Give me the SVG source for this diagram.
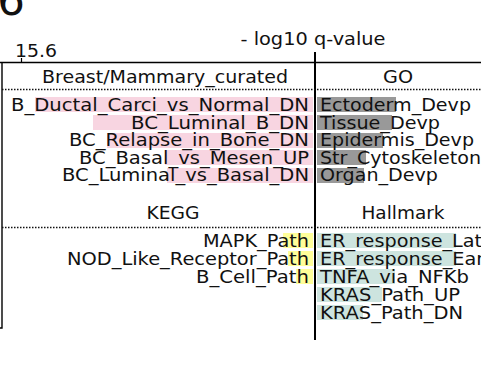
<svg xmlns="http://www.w3.org/2000/svg" width="481" height="382" viewBox="0 0 481 382">
<style>
text{font-family:"DejaVu Sans","Verdana",sans-serif;font-size:18px;fill:#111}
.r{text-anchor:end}
.m{text-anchor:middle}
.pk{fill:#f8d5e1}
.gy{fill:#999999}
.yl{fill:#ffff99}
.tl{fill:#cde4df}
.dot{stroke:#111;stroke-width:1.5;stroke-dasharray:1.5 1.5;fill:none}
.ax{stroke:#000;fill:none}
</style>
<rect width="481" height="382" fill="#fff"/>
<text x="-3" y="14.5" style="font-size:44px">6</text>
<g id="axes">
<text x="15" y="57" textLength="42" lengthAdjust="spacingAndGlyphs">15.6</text>
<line class="ax" x1="21.5" y1="58" x2="21.5" y2="62" stroke-width="1.2"/>
<text class="m" x="313" y="45" textLength="145" lengthAdjust="spacingAndGlyphs">- log10 q-value</text>
<line class="ax" x1="0" y1="62.5" x2="481" y2="62.5" stroke-width="1.7"/>
<path class="ax" d="M0,328 H2 V62" stroke-width="1.4"/>
<line class="ax" x1="315" y1="52" x2="315" y2="340" stroke-width="2"/>
<line class="dot" x1="2" y1="89.5" x2="481" y2="89.5"/>
<line class="dot" x1="2" y1="227.5" x2="481" y2="227.5"/>
</g>
<g id="breast">
<text class="m" x="165" y="83" textLength="246" lengthAdjust="spacingAndGlyphs">Breast/Mammary_curated</text>
<rect class="pk" x="35" y="97" width="278" height="15"/>
<rect class="pk" x="93" y="115" width="220" height="15"/>
<rect class="pk" x="107" y="133" width="206" height="15"/>
<rect class="pk" x="165" y="150" width="148" height="15"/>
<rect class="pk" x="167" y="168" width="146" height="15"/>
<text class="r" x="309" y="110.5" textLength="298" lengthAdjust="spacingAndGlyphs">B_Ductal_Carci_vs_Normal_DN</text>
<text class="r" x="309" y="128.5" textLength="178" lengthAdjust="spacingAndGlyphs">BC_Luminal_B_DN</text>
<text class="r" x="309" y="146" textLength="240" lengthAdjust="spacingAndGlyphs">BC_Relapse_in_Bone_DN</text>
<text class="r" x="309" y="163.5" textLength="230" lengthAdjust="spacingAndGlyphs">BC_Basal_vs_Mesen_UP</text>
<text class="r" x="309" y="181" textLength="247" lengthAdjust="spacingAndGlyphs">BC_Luminal_vs_Basal_DN</text>
</g>
<g id="go">
<text class="m" x="398" y="83" textLength="30" lengthAdjust="spacingAndGlyphs">GO</text>
<rect class="gy" x="317" y="97" width="79" height="15"/>
<rect class="gy" x="317" y="115" width="75" height="15"/>
<rect class="gy" x="317" y="133" width="66" height="15"/>
<rect class="gy" x="317" y="150" width="49" height="15"/>
<rect class="gy" x="317" y="168" width="47" height="15"/>
<text x="320" y="110.5" textLength="151" lengthAdjust="spacingAndGlyphs">Ectoderm_Devp</text>
<text x="320" y="128.5" textLength="120" lengthAdjust="spacingAndGlyphs">Tissue_Devp</text>
<text x="320" y="146" textLength="154" lengthAdjust="spacingAndGlyphs">Epidermis_Devp</text>
<text x="320" y="163.5" textLength="161" lengthAdjust="spacingAndGlyphs">Str_Cytoskeleton</text>
<text x="320" y="181" textLength="118" lengthAdjust="spacingAndGlyphs">Organ_Devp</text>
</g>
<g id="kegg">
<text class="m" x="173" y="219" textLength="53" lengthAdjust="spacingAndGlyphs">KEGG</text>
<rect class="yl" x="283" y="233" width="30" height="15"/>
<rect class="yl" x="288" y="251" width="25" height="15"/>
<rect class="yl" x="296" y="269" width="17" height="15"/>
<text class="r" x="309" y="246.5" textLength="106" lengthAdjust="spacingAndGlyphs">MAPK_Path</text>
<text class="r" x="309" y="264.5" textLength="242" lengthAdjust="spacingAndGlyphs">NOD_Like_Receptor_Path</text>
<text class="r" x="309" y="282.5" textLength="113" lengthAdjust="spacingAndGlyphs">B_Cell_Path</text>
</g>
<g id="hallmark">
<text class="m" x="403" y="219" textLength="83" lengthAdjust="spacingAndGlyphs">Hallmark</text>
<rect class="tl" x="317" y="233" width="139" height="15"/>
<rect class="tl" x="317" y="251" width="139" height="15"/>
<rect class="tl" x="317" y="269" width="78" height="15"/>
<rect class="tl" x="317" y="287" width="65" height="15"/>
<rect class="tl" x="317" y="305" width="46" height="15"/>
<text x="320" y="246.5" textLength="174" lengthAdjust="spacingAndGlyphs">ER_response_Late</text>
<text x="320" y="264.5" textLength="181" lengthAdjust="spacingAndGlyphs">ER_response_Early</text>
<text x="320" y="282.5" textLength="149" lengthAdjust="spacingAndGlyphs">TNFA_via_NFKb</text>
<text x="320" y="300.5" textLength="140" lengthAdjust="spacingAndGlyphs">KRAS_Path_UP</text>
<text x="320" y="318.5" textLength="143" lengthAdjust="spacingAndGlyphs">KRAS_Path_DN</text>
</g>
</svg>
